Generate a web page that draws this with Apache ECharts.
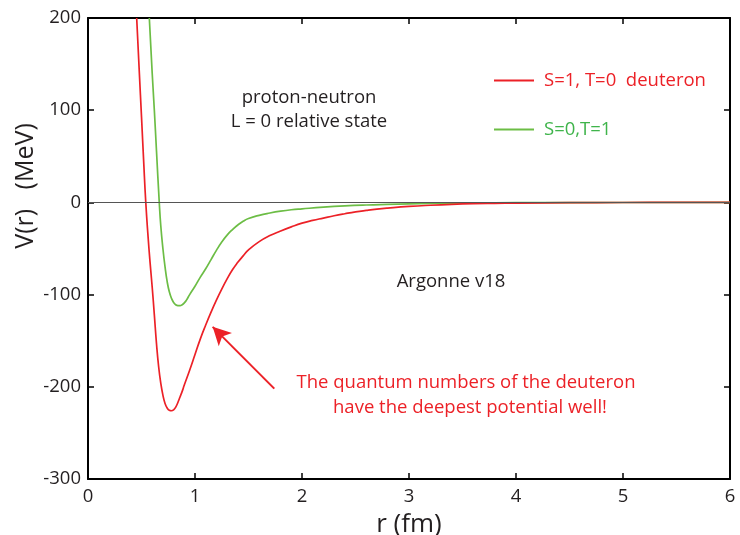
<!DOCTYPE html>
<html>
<head>
<meta charset="utf-8">
<script src="https://cdn.jsdelivr.net/npm/echarts@6/dist/echarts.min.js"></script>
<style>html,body{margin:0;padding:0;background:#fff;overflow:hidden}#chart{width:740px;height:535px}</style>
</head>
<body>
<div id="chart"></div>
<script>
// Data: [r (fm), V (MeV)]
const deuteronR = [0.455,0.48,0.50,0.52,0.54,0.56,0.58,0.60,0.62,0.64,0.66,0.68,0.70,0.72,0.74,0.76,0.78,0.80,0.82,0.84,0.86,0.88,0.90,0.95,1.00,1.05,1.10,1.15,1.20,1.25,1.30,1.35,1.40,1.45,1.50,1.60,1.70,1.80,1.90,2.00,2.10,2.20,2.30,2.40,2.50,2.60,2.70,2.80,3.00,3.20,3.40,3.60,3.80,4.00,4.50,5.00,5.50,6.00];
const deuteronV = [200,140,93,45,0,-35,-65,-92,-122,-153,-178,-196,-209,-218,-223,-225.5,-226,-225,-222,-217,-211,-205,-198,-182,-165,-148,-133,-119,-106,-94,-83,-73,-65,-58,-51.5,-42.5,-36,-31,-26.5,-22.5,-19.5,-17,-14.5,-12.3,-10.3,-8.7,-7.3,-6.2,-4.4,-3.1,-2.1,-1.4,-1,-0.7,-0.3,-0.1,0,0];
const singletR = [0.573,0.60,0.62,0.64,0.666,0.68,0.70,0.72,0.74,0.76,0.78,0.80,0.82,0.84,0.86,0.88,0.90,0.92,0.95,1.00,1.05,1.10,1.15,1.20,1.25,1.30,1.35,1.40,1.45,1.50,1.60,1.70,1.80,1.90,2.00,2.20,2.40,2.60,2.80,3.00,3.20,3.40,3.60,4.00,5.00,6.00];
const singletV = [200,140,100,56,0,-25,-50,-70,-86,-97,-104,-108.5,-111,-112,-112,-111,-109,-106,-100,-91,-81,-72,-62,-52,-43,-35.5,-29.5,-24.5,-20.5,-17.5,-14,-11.5,-9.5,-8,-7,-5.2,-3.8,-2.8,-2.1,-1.5,-1.1,-0.8,-0.5,-0.3,-0.1,0];
const xTicks = [0,1,2,3,4,5,6];
const yTicks = [-300,-200,-100,0,100,200];
const seriesNames = ['S=1, T=0  deuteron','S=0,T=1'];
const arrowTail = [1.741,-202];
const arrowTip = [1.165,-135];

const RED = '#ec2127';
const GREEN = '#6cbd45';
const GREEN_TEXT = '#3fb44b';
const INK = '#231f20';
const FONT = 'Open Sans';

const zip = (a,b) => a.map((v,i) => [v,b[i]]);

const chart = echarts.init(document.getElementById('chart'), null, {renderer:'canvas'});

const axisCommon = {
  type:'value',
  axisLine:{show:true, onZero:false, lineStyle:{color:'#000', width:2}},
  axisTick:{show:true, inside:true, length:6, lineStyle:{color:'#000', width:1.5}},
  splitLine:{show:false}
};

chart.setOption({
  animation:false,
  backgroundColor:'#fff',
  grid:{left:88, right:10, top:18, bottom:56, containLabel:false, outerBoundsMode:'none'},
  xAxis:[
    Object.assign({}, axisCommon, {
      position:'bottom', min:xTicks[0], max:xTicks[xTicks.length-1], interval:1,
      axisLabel:{color:INK, fontFamily:FONT, fontSize:18.5, margin:8},
      name:'r (fm)', nameLocation:'middle', nameGap:33,
      nameTextStyle:{color:INK, fontFamily:FONT, fontSize:26}
    }),
    Object.assign({}, axisCommon, {
      position:'top', min:xTicks[0], max:xTicks[xTicks.length-1], interval:1,
      axisLabel:{show:false}
    })
  ],
  yAxis:[
    Object.assign({}, axisCommon, {
      position:'left', min:yTicks[0], max:yTicks[yTicks.length-1], interval:100,
      axisLabel:{color:INK, fontFamily:FONT, fontSize:18.5, margin:7}
    }),
    Object.assign({}, axisCommon, {
      position:'right', min:yTicks[0], max:yTicks[yTicks.length-1], interval:100,
      axisLabel:{show:false}
    })
  ],
  legend:{
    orient:'vertical', left:489, top:66, itemGap:30,
    itemWidth:40, itemHeight:2, icon:'rect',
    textStyle:{fontFamily:FONT, fontSize:18.5, padding:[0,0,0,5]},
    data:[
      {name:seriesNames[0], textStyle:{color:RED}, itemStyle:{color:RED}},
      {name:seriesNames[1], textStyle:{color:GREEN_TEXT}, itemStyle:{color:GREEN}}
    ]
  },
  series:[
    {
      name:seriesNames[1], type:'line', data:zip(singletR, singletV),
      showSymbol:false, smooth:0.5, clip:true,
      lineStyle:{color:GREEN, width:1.7}, itemStyle:{color:GREEN},
      markLine:{
        silent:true, symbol:['none','none'],
        label:{show:false},
        lineStyle:{color:'#555', width:1, type:'solid'},
        data:[{yAxis:0}]
      },
      z:3
    },
    {
      name:seriesNames[0], type:'line', data:zip(deuteronR, deuteronV),
      showSymbol:false, smooth:0.5, clip:true,
      lineStyle:{color:RED, width:1.7}, itemStyle:{color:RED},
      markLine:{
        silent:true, symbol:['none','arrow'], symbolSize:[14,18],
        label:{show:false},
        lineStyle:{color:RED, width:2, type:'solid'},
        data:[[{coord:arrowTail},{coord:arrowTip}]]
      },
      z:4
    }
  ],
  graphic:[
    {type:'text', x:26, y:186, rotation:Math.PI/2,
     style:{text:'V(r)   (MeV)', fill:INK, font:'25px "Open Sans"', textAlign:'center', textVerticalAlign:'middle'}},
    {type:'text', x:309, y:98,
     style:{text:'proton-neutron', fill:INK, font:'18.5px "Open Sans"', textAlign:'center', textVerticalAlign:'middle'}},
    {type:'text', x:309, y:122,
     style:{text:'L = 0 relative state', fill:INK, font:'18.5px "Open Sans"', textAlign:'center', textVerticalAlign:'middle'}},
    {type:'text', x:451, y:282,
     style:{text:'Argonne v18', fill:INK, font:'18.5px "Open Sans"', textAlign:'center', textVerticalAlign:'middle'}},
    {type:'text', x:466, y:383,
     style:{text:'The quantum numbers of the deuteron', fill:RED, font:'18.5px "Open Sans"', textAlign:'center', textVerticalAlign:'middle'}},
    {type:'text', x:470, y:408,
     style:{text:'have the deepest potential well!', fill:RED, font:'18.5px "Open Sans"', textAlign:'center', textVerticalAlign:'middle'}}
  ]
});
</script>
</body>
</html>
